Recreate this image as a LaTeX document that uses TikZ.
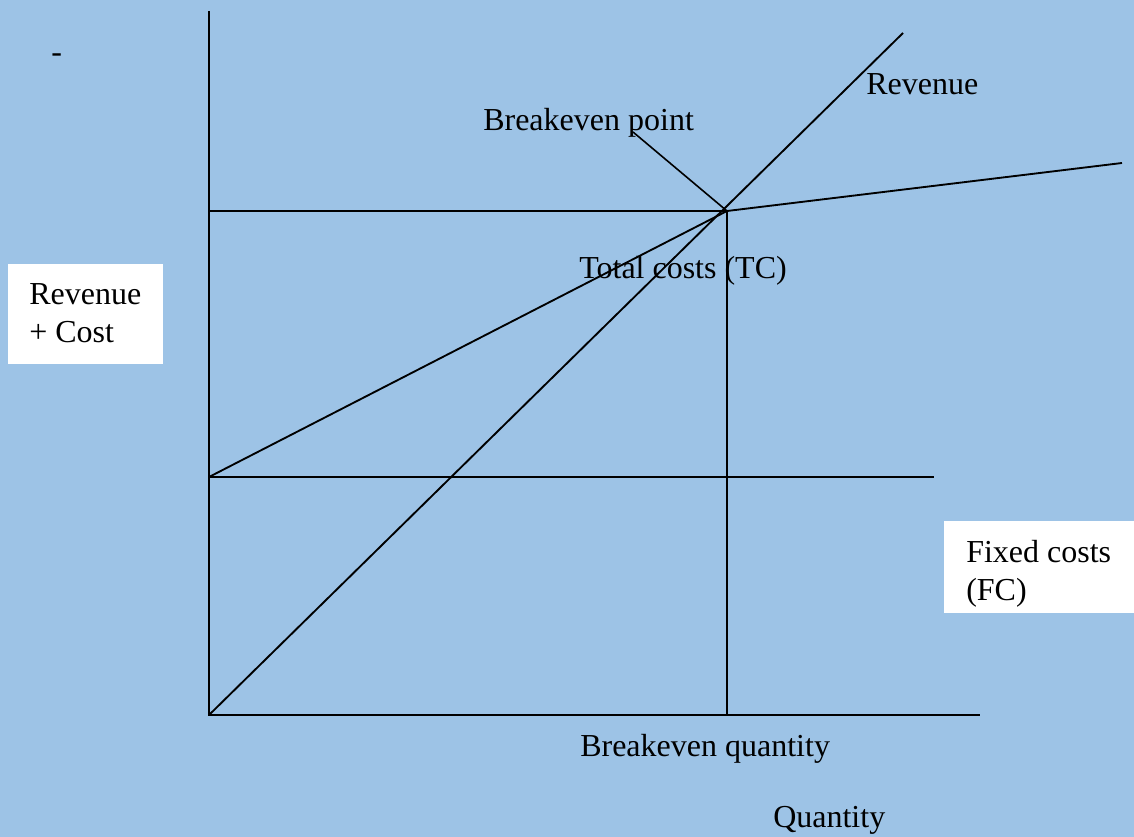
\documentclass[tikz,border=0pt]{standalone}
\usepackage{fontspec}
\setmainfont{Liberation Serif}
\definecolor{bgblue}{RGB}{157,195,230}
\tikzset{
  curve/.style={line width=1.4pt, black},
  lbl/.style={font=\fontsize{24}{28}\selectfont, inner sep=0pt, anchor=base west},
  whitebox/.style={fill=white, draw=none, inner sep=0pt, anchor=north west},
}
\begin{document}
\begin{tikzpicture}[x=0.75pt, y=-0.75pt]
  % page and background
  \fill[bgblue] (0,0) rectangle (1134,837);
  \useasboundingbox (0,0) rectangle (1134,837);

  % key points of the chart
  \coordinate (O) at (209,715);
  \coordinate (ytop) at (209,11);
  \coordinate (xend) at (980,715);
  \coordinate (BE) at (727,211);
  \coordinate (BEq) at (727,715);
  \coordinate (BEy) at (209,211);
  \coordinate (FC0) at (209,477);
  \coordinate (FCend) at (934,477);
  \coordinate (TCend) at (1122,163);
  \coordinate (REVend) at (903,33);
  \coordinate (ptr) at (633,132);

  % axes
  \draw[curve] (ytop) -- (O) -- (xend);
  % breakeven guides
  \draw[curve] (BEy) -- (BE) -- (BEq);
  % fixed costs
  \draw[curve] (FC0) -- (FCend);
  % total costs
  \draw[curve] (FC0) -- (BE) -- (TCend);
  % revenue
  \draw[curve] (O) -- (REVend);
  % pointer to the breakeven point
  \draw[line width=1.2pt] (ptr) -- (BE);

  % labels
  \node[lbl] (dash) at (51,63) {-};
  \node[lbl] (revlbl) at (866,95) {Revenue};
  \node[lbl] (bepoint) at (483,131) {Breakeven point};
  \node[lbl] (tclbl) at (579,279) {Total costs (TC)};
  \node[lbl] (beqty) at (580,756) {Breakeven quantity};
  \node[lbl] (qty) at (773,827) {Quantity};

  % y-axis caption box
  \node[whitebox, minimum width=155*0.75pt, minimum height=100*0.75pt] (ybox) at (8,264) {};
  \node[lbl] (ytxt1) at (29,305) {Revenue};
  \node[lbl] (ytxt2) at (29,343) {+ Cost};

  % fixed costs caption box
  \node[whitebox, minimum width=190*0.75pt, minimum height=92*0.75pt] (fcbox) at (944,521) {};
  \node[lbl] (fctxt1) at (966,562) {Fixed costs};
  \node[lbl] (fctxt2) at (966,600) {(FC)};
\end{tikzpicture}
\end{document}
